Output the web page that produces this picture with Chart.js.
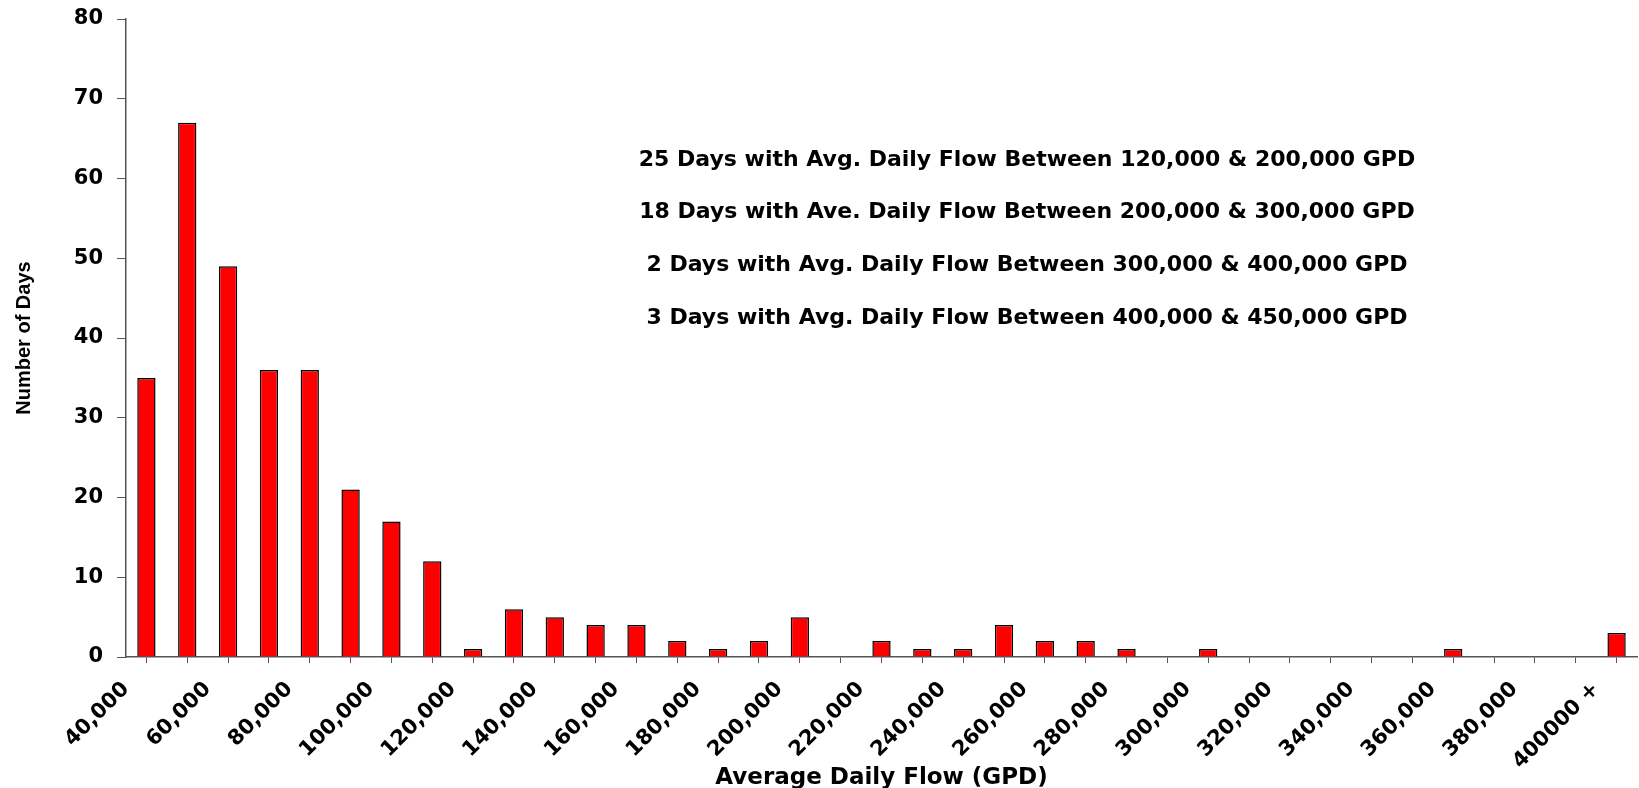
<!DOCTYPE html>
<html>
<head>
<meta charset="utf-8">
<script src="https://cdn.jsdelivr.net/npm/chart.js@4.4.0/dist/chart.umd.min.js"></script>
<style>
  html, body { margin: 0; padding: 0; background: #fff; }
  #wrap { width: 1639px; height: 788px; position: relative; }
</style>
</head>
<body>
<div id="wrap"><canvas id="flowChart"></canvas></div>
<script>
// histogram bins (lower edge of each 10,000 GPD bin) and day counts
var binStarts = [40000, 50000, 60000, 70000, 80000, 90000, 100000, 110000, 120000, 130000,
  140000, 150000, 160000, 170000, 180000, 190000, 200000, 210000, 220000, 230000,
  240000, 250000, 260000, 270000, 280000, 290000, 300000, 310000, 320000, 330000,
  340000, 350000, 360000, 370000, 380000, 390000, 400000];
var dayCounts = [35, 67, 49, 36, 36, 21, 17, 12, 1, 6,
  5, 4, 4, 2, 1, 2, 5, 0, 2, 1,
  1, 4, 2, 2, 1, 0, 1, 0, 0, 0,
  0, 0, 1, 0, 0, 0, 3];
var binWidth = 10000;

// labelled x ticks (every 20,000)
var xTickValues = [40000, 60000, 80000, 100000, 120000, 140000, 160000, 180000, 200000, 220000,
  240000, 260000, 280000, 300000, 320000, 340000, 360000, 380000, 400000];
var xTickLabels = ['40,000', '60,000', '80,000', '100,000', '120,000', '140,000', '160,000', '180,000', '200,000', '220,000',
  '240,000', '260,000', '280,000', '300,000', '320,000', '340,000', '360,000', '380,000', '400000 +'];

var notes = [
  '25 Days with Avg. Daily Flow Between 120,000 & 200,000 GPD',
  '18 Days with Ave. Daily Flow Between 200,000 & 300,000 GPD',
  '2 Days with Avg. Daily Flow Between 300,000 & 400,000 GPD',
  '3 Days with Avg. Daily Flow Between 400,000 & 450,000 GPD'
];

var boldFont = "'DejaVu Sans', sans-serif";

var points = binStarts.map(function(start, i) {
  return { x: start + binWidth / 2, y: dayCounts[i] };
});

var notesPlugin = {
  id: 'notes',
  afterDraw: function(chart) {
    var ctx = chart.ctx;
    ctx.save();
    ctx.font = 'bold 22px ' + boldFont;
    ctx.fillStyle = '#000';
    ctx.textAlign = 'center';
    ctx.textBaseline = 'middle';
    var ys = [160, 212, 265, 318];
    notes.forEach(function(line, i) {
      ctx.fillText(line, 1027, ys[i]);
    });
    ctx.restore();
  }
};

var ctx = document.getElementById('flowChart').getContext('2d');
new Chart(ctx, {
  type: 'bar',
  data: {
    datasets: [
      {
        label: 'Number of Days',
        data: points,
        backgroundColor: '#ff0000',
        borderColor: '#000000',
        borderWidth: 1.5,
        barPercentage: 0.56,
        categoryPercentage: 0.8
      }
    ]
  },
  options: {
    responsive: true,
    maintainAspectRatio: false,
    animation: false,
    layout: {
      padding: { top: 19, right: 2, left: 0, bottom: 0 }
    },
    plugins: {
      legend: { display: false },
      tooltip: { enabled: false }
    },
    scales: {
      x: {
        type: 'linear',
        offset: false,
        min: 40000,
        max: 410000,
        afterBuildTicks: function(scale) {
          var ticks = [];
          for (var v = 40000; v <= 410000; v += binWidth) ticks.push({ value: v });
          scale.ticks = ticks;
        },
        afterFit: function(scale) {
          scale.height = 131;
          scale.paddingLeft = 0;
          scale.paddingRight = 0;
        },
        grid: {
          drawOnChartArea: false,
          tickLength: 6,
          color: '#555'
        },
        border: { color: '#555', width: 1.5 },
        ticks: {
          autoSkip: false,
          minRotation: 45,
          maxRotation: 45,
          padding: 14,
          color: '#000',
          font: { family: boldFont, size: 21, weight: 'bold' },
          callback: function(value) {
            var idx = xTickValues.indexOf(value);
            return idx >= 0 ? xTickLabels[idx] : '';
          }
        },
        title: {
          display: true,
          text: 'Average Daily Flow (GPD)',
          color: '#000',
          padding: { top: 0, bottom: -4 },
          font: { family: boldFont, size: 23, weight: 'bold' }
        }
      },
      y: {
        min: 0,
        max: 80,
        afterFit: function(scale) {
          scale.width = 126;
          scale.paddingTop = 0;
          scale.paddingBottom = 0;
        },
        grid: {
          drawOnChartArea: false,
          tickLength: 9,
          color: '#555'
        },
        border: { color: '#555', width: 1.5 },
        ticks: {
          stepSize: 10,
          padding: 14,
          color: '#000',
          font: { family: boldFont, size: 21, weight: 'bold' }
        },
        title: {
          display: true,
          text: 'Number of Days',
          color: '#000',
          padding: { top: 12, bottom: 0 },
          font: { family: "'Liberation Sans', Arial, sans-serif", size: 20, weight: 'bold' }
        }
      }
    }
  },
  plugins: [notesPlugin]
});
</script>
</body>
</html>
